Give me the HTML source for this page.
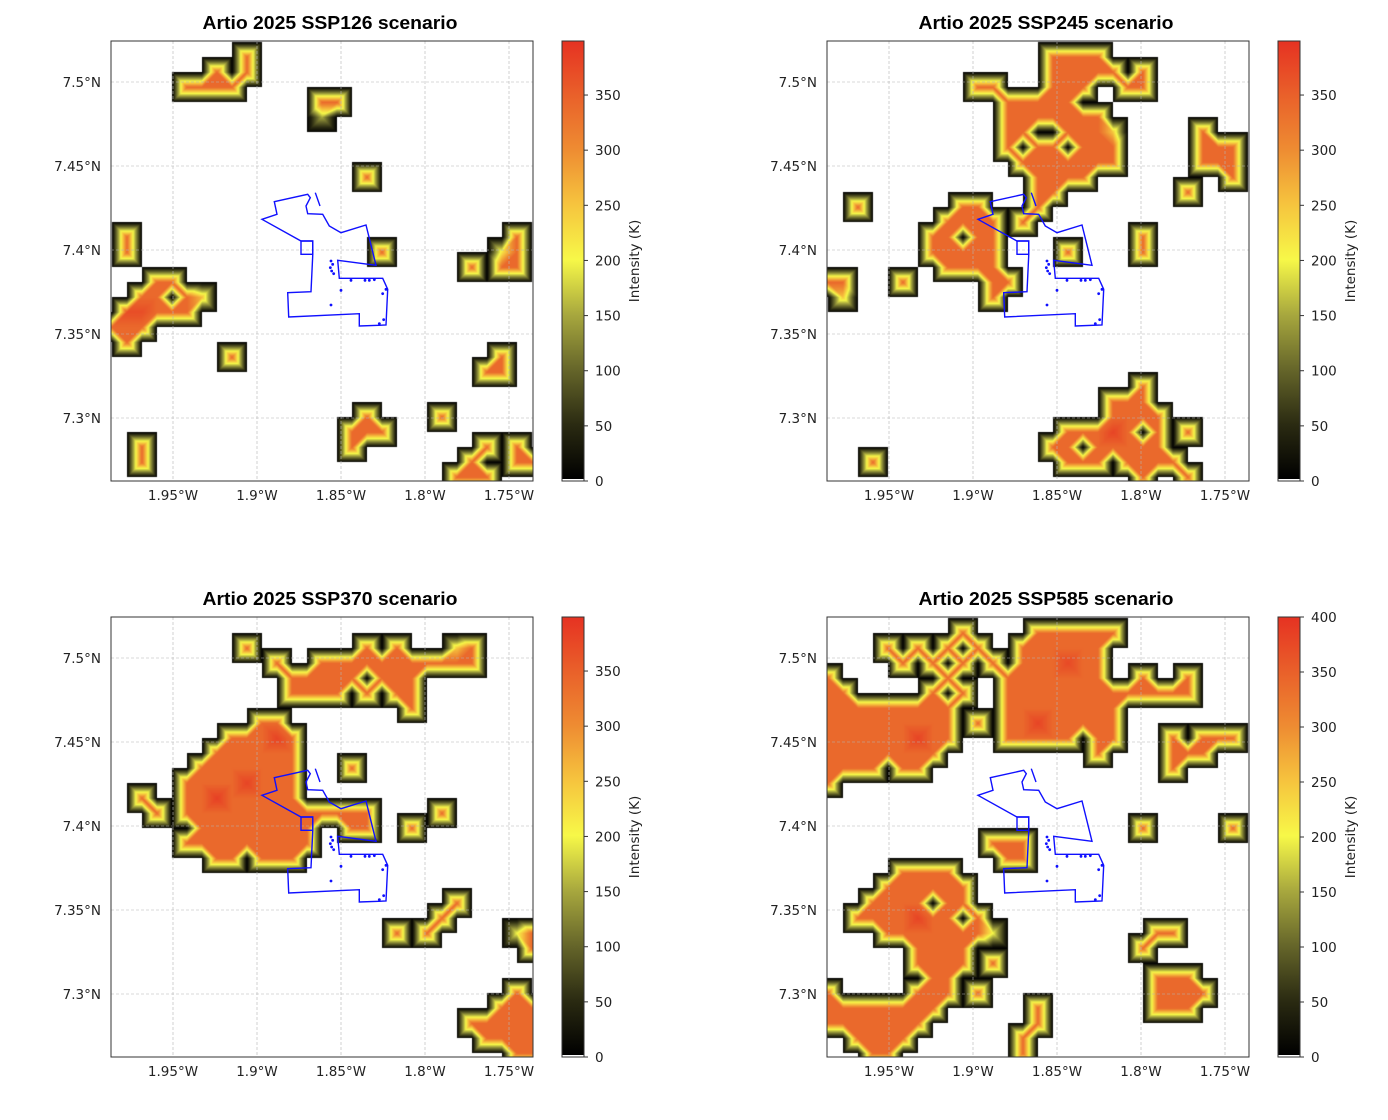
<!DOCTYPE html>
<html><head><meta charset="utf-8">
<style>
body{margin:0;background:#fff;width:1388px;height:1120px;position:relative;overflow:hidden;font-family:"DejaVu Sans","Liberation Sans",sans-serif}
canvas{position:absolute}
svg{position:absolute;left:0;top:0}
</style></head>
<body>
<div id="root"></div>
<script>
// ---- data: grid runs [row j, col start, col end, value?] (default value 340) ----
const p1Runs=[[1,9,9],[2,7,7],[2,9,9],[3,5,8],[4,14,15],[5,14,14,150],[9,17,17],[13,1,1],[14,1,1],[13,27,27],[14,27,27],[14,26,26,220],[15,26,27],[14,18,18],[15,24,24],[16,3,4],[17,2,3],[17,5,5],[17,6,6,260],[18,1,5],[18,1,2,370],[19,0,2],[20,1,1],[21,8,8],[21,26,26],[22,25,26],[25,17,17],[25,22,22],[26,16,18],[27,16,16],[27,2,2],[28,2,2],[27,25,25],[27,27,27],[28,24,24],[28,27,28],[29,23,25]];
const p2Runs=[[1,15,18],[2,15,19],[2,21,21],[3,15,17],[3,20,21],[3,10,11],[4,12,16],[5,12,18],[6,12,13],[6,16,18],[6,19,19,250],[7,12,12],[7,14,15],[7,17,19],[8,13,19],[9,14,17],[10,14,15],[11,14,14],[12,13,13],[6,25,25],[7,25,27],[8,25,27],[9,27,27],[10,24,24],[11,2,2],[16,5,5],[16,0,1],[17,1,1,250],[14,16,16],[13,21,21],[14,21,21],[28,3,3],[11,9,10],[12,8,11],[13,7,8],[13,10,11],[14,7,11],[15,8,11],[16,11,12],[17,11,11],[23,21,21],[24,19,21],[25,19,22],[26,16,20],[26,22,22],[26,24,24],[27,15,16],[27,18,22],[28,16,18],[28,20,23],[29,21,21],[29,24,24],[26,19,19,380]];
const p3Runs=[[2,9,9],[2,17,17],[2,19,19],[2,23,23,250],[2,24,24],[3,11,11],[3,14,24],[4,12,16],[4,18,20],[5,12,15],[5,17,17],[5,19,20],[6,20,20],[7,10,11],[8,8,12],[9,7,12],[10,6,12],[11,5,12],[12,5,12],[13,5,17],[14,6,13],[14,16,17],[15,5,13],[16,7,8],[16,10,12],[12,7,7,385],[11,9,9,380],[8,11,11,380],[12,2,2],[13,3,3],[10,16,16],[13,22,22],[14,20,20],[21,19,19],[19,23,23],[20,22,22],[21,21,21],[21,28,28],[22,28,28],[21,27,27,200],[25,27,27],[26,26,28],[27,24,28],[28,25,28],[29,27,28]];
const p4Runs=[[1,9,9],[2,4,4],[2,6,6],[2,8,8],[2,10,10],[3,5,5],[3,7,7],[3,9,9],[3,11,11],[7,10,10],[4,0,0],[4,8,8],[5,0,1],[5,7,7],[5,9,9],[6,0,8],[7,0,8],[8,0,8],[9,0,7],[10,0,3],[10,5,6],[11,0,0],[8,6,6,380],[1,14,19],[2,13,18],[3,13,18],[4,12,18],[5,12,20],[6,12,19],[7,12,19],[8,12,16],[8,18,19],[9,18,18],[7,14,14,380],[3,16,16,375],[4,21,21],[4,24,24],[5,21,24],[8,23,23],[8,25,27],[9,23,25],[10,23,23],[14,21,21],[14,27,27],[15,11,13],[16,12,13],[22,21,21],[21,22,23],[24,22,24],[25,22,25],[26,22,24],[26,14,14],[27,14,14],[28,13,13],[29,13,13],[25,10,10],[23,11,11],[17,5,8],[18,4,9],[19,3,6],[19,8,9],[20,2,8],[20,10,10],[21,4,10],[21,11,11,200],[22,6,9],[23,6,9],[24,7,8],[25,0,0],[25,6,8],[26,0,7],[27,0,6],[28,2,5],[29,3,4],[20,6,6,380]];
const titles=["Artio 2025 SSP126 scenario","Artio 2025 SSP245 scenario","Artio 2025 SSP370 scenario","Artio 2025 SSP585 scenario"];
const lonTicks=[1.95,1.90,1.85,1.80,1.75];
const lonTickLabels=["1.95°W","1.9°W","1.85°W","1.8°W","1.75°W"];
const latTicks=[7.50,7.45,7.40,7.35,7.30];
const latTickLabels=["7.5°N","7.45°N","7.4°N","7.35°N","7.3°N"];
const cbTicks=[0,50,100,150,200,250,300,350];
const cbTicks4=[0,50,100,150,200,250,300,350,400];
const cbMax=[399,399,399,400];

// ---- geometry ----
const AW=422,AH=440;
const origins=[[111,41],[827,41],[111,617],[827,617]];
const LON_L=1.95+62/84*0.05, LAT_T=7.5+41/84*0.05;
function lonToX(lon){return (LON_L-lon)/0.05*84;}
function latToY(lat){return (LAT_T-lat)/0.05*84;}
function xToLon(x){return LON_L-x/84*0.05;}
function yToLat(y){return LAT_T-y/84*0.05;}
const G_D=15/84*0.05, G_LON0=xToLon(1), G_LAT0=yToLat(1.3);

const stops=[[0,[0,0,0]],[50,[43,43,18]],[100,[102,102,42]],[150,[168,168,62]],[200,[247,248,72]],[250,[246,196,62]],[300,[238,140,50]],[350,[233,96,42]],[400,[230,50,34]]];
function cmap(v){
  if(v<=0)return stops[0][1];
  for(let k=1;k<stops.length;k++){if(v<=stops[k][0]){const a=stops[k-1],b=stops[k];const t=(v-a[0])/(b[0]-a[0]);return [0,1,2].map(c=>Math.round(a[1][c]+(b[1][c]-a[1][c])*t));}}
  return stops[stops.length-1][1];
}
function triInterp(a,b,c,d,fx,fy){
  if(a+d>=b+c){
    if(fx>=fy) return a+(b-a)*fx+(d-b)*fy;
    return a+(c-a)*fy+(d-c)*fx;
  } else {
    if(fx+fy<=1) return a+(b-a)*fx+(c-a)*fy;
    return d+(c-d)*(1-fx)+(b-d)*(1-fy);
  }
}
const NS="http://www.w3.org/2000/svg";
function sv(tag,attrs,parent){const e=document.createElementNS(NS,tag);for(const k in attrs)e.setAttribute(k,attrs[k]);parent.appendChild(e);return e;}
const svg=sv('svg',{width:1388,height:1120,viewBox:'0 0 1388 1120'},document.body);



const poly=[[151,178.3],[166,173.3],[163.3,160.7],[196.7,153.3],[199.3,156.7],[195,165],[196.7,172.7],[211.7,173.3],[218.3,185],[230,191.7],[255,184],[265,224.3],[226.7,219.3],[228.3,237.3],[271.7,237.3],[276.7,248.3],[275,284],[248.3,285],[248.3,272.7],[177.7,276],[176.7,251.7],[200,250.7],[201.7,215],[201.7,200],[190,200]];
const dots=[[660,660],[665,670],[658,680],[662,690],[668,698],[720,718],[762,718],[775,718],[790,716],[825,745],[815,758],[690,748],[660,792],[818,836],[805,848]];

const allRuns=[p1Runs,p2Runs,p3Runs,p4Runs];
allRuns.forEach((runs,p)=>{
  const [ox,oy]=origins[p];
  const grid={};
  runs.forEach(r=>{for(let i=r[1];i<=r[2];i++)grid[i+','+r[0]]=(r[3]!==undefined?r[3]:340);});
  const V=(i,j)=>grid[i+','+j]||0;
  const cv=document.createElement('canvas');
  cv.width=AW;cv.height=AH;cv.style.left=ox+'px';cv.style.top=oy+'px';
  
  
  document.body.insertBefore(cv,svg);
  const ctx=cv.getContext('2d');const img=ctx.createImageData(AW,AH);
  for(let y=0;y<AH;y++){const gy=(G_LAT0-yToLat(y+0.5))/G_D;const j0=Math.floor(gy),fy=gy-j0;
    for(let x=0;x<AW;x++){const gx=(G_LON0-xToLon(x+0.5))/G_D;const i0=Math.floor(gx),fx=gx-i0;
      const v=triInterp(V(i0,j0),V(i0+1,j0),V(i0,j0+1),V(i0+1,j0+1),fx,fy);
      const k=(y*AW+x)*4;
      if(v<2){img.data[k]=255;img.data[k+1]=255;img.data[k+2]=255;img.data[k+3]=255;}
      else{const c=cmap(v);img.data[k]=c[0];img.data[k+1]=c[1];img.data[k+2]=c[2];img.data[k+3]=255;}
    }}
  ctx.putImageData(img,0,0);
  const g=sv('g',{transform:`translate(${ox},${oy})`},svg);
  
  
  lonTicks.forEach((lon,k)=>{const x=lonToX(lon);
    const l=sv('line',{x1:x,y1:0,x2:x,y2:AH,stroke:'#b4b4b4','stroke-width':0.6,'stroke-dasharray':'3,2'},g);
    
    const t=sv('text',{x:x,y:AH+19,'text-anchor':'middle','font-size':13.5,fill:'#222'},g);t.textContent=lonTickLabels[k];
    });
  latTicks.forEach((lat,k)=>{const y=latToY(lat);
    const l=sv('line',{x1:0,y1:y,x2:AW,y2:y,stroke:'#b4b4b4','stroke-width':0.6,'stroke-dasharray':'3,2'},g);
    
    const t=sv('text',{x:-10,y:y+5,'text-anchor':'end','font-size':13.5,fill:'#222'},g);t.textContent=latTickLabels[k];
    });
  const pl=sv('polygon',{points:poly.map(q=>q.join(',')).join(' '),fill:'none',stroke:'#1010ff','stroke-width':1.4},g);
  
  const bx=sv('rect',{x:190,y:200,width:11.7,height:13.3,fill:'none',stroke:'#1010ff','stroke-width':1.4},g);
  
  const ln=sv('line',{x1:204.3,y1:151.7,x2:209,y2:165,stroke:'#1010ff','stroke-width':1.4},g);
  
  dots.forEach(d=>{const c=sv('circle',{cx:d[0]/3,cy:d[1]/3,r:1.4,fill:'#1010ff'},g);
    });
  const fr=sv('rect',{x:0,y:0,width:AW,height:AH,fill:'none',stroke:'#333','stroke-width':1},g);
  
  const tt=sv('text',{x:AW/2+8,y:-12,'text-anchor':'middle','font-size':18.5,'font-weight':'bold',fill:'#000','font-family':'Liberation Sans, sans-serif',textLength:255,lengthAdjust:'spacingAndGlyphs'},g);
  tt.textContent=titles[p];
  
  const cb=sv('g',{transform:'translate(451,0)'},g);
  
  const gid='cbg'+p;const defs=sv('defs',{},cb);const lg=sv('linearGradient',{id:gid,x1:0,y1:1,x2:0,y2:0},defs);
  const mx=cbMax[p];
  stops.forEach(s=>{if(s[0]<=mx+1)sv('stop',{offset:Math.min(1,s[0]/mx),'stop-color':`rgb(${s[1].join(',')})`},lg);});
  const cr=sv('rect',{x:0,y:0,width:22,height:AH-2,fill:`url(#${gid})`},cb);
  
  sv('rect',{x:0,y:0,width:22,height:AH,fill:'none',stroke:'#333','stroke-width':1},cb);
  const ticks=(p===3?cbTicks4:cbTicks);
  ticks.forEach(v=>{const y=AH-v/mx*AH;
    sv('line',{x1:22,y1:y,x2:26,y2:y,stroke:'#333','stroke-width':1},cb);
    const t=sv('text',{x:33,y:y+5,'font-size':13.5,fill:'#222'},cb);t.textContent=String(v);
    });
  const lb=sv('text',{x:0,y:0,'font-size':13.5,fill:'#222','text-anchor':'middle',transform:`translate(77,${AH/2}) rotate(-90)`},cb);
  lb.textContent='Intensity (K)';
  
});
</script>
</body></html>
